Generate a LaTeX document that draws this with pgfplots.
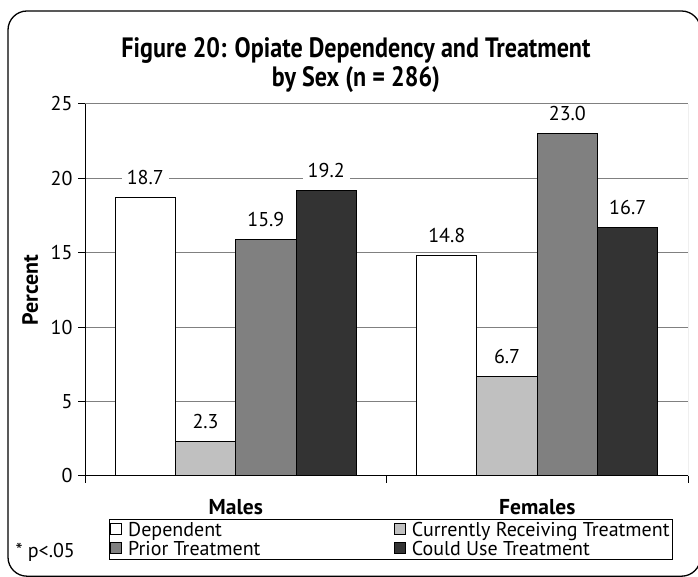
\documentclass[border=0pt]{standalone}
\usepackage{fontspec}
\setmainfont{PT Sans}
\newfontfamily\titlefont[FakeStretch=0.86]{PT Sans}
\usepackage{pgfplots}
\pgfplotsset{compat=1.18}
\definecolor{lgray}{HTML}{C0C0C0}
\definecolor{mgray}{HTML}{808080}
\definecolor{dgray}{HTML}{333333}
\newcommand{\fs}{\fontsize{20}{23}\selectfont}
\begin{document}
\begin{tikzpicture}[x=1pt,y=1pt]
\useasboundingbox (0,0) rectangle (698,577);
\coordinate (O) at (85,101);
\begin{scope}
\clip (0,0) rectangle (698,577);
\draw[line width=1.3pt, rounded corners=19pt] (8,0.8) rectangle (700.5,566);
\end{scope}
\node[font=\titlefont\bfseries\fontsize{28}{29}\selectfont, align=center, anchor=center] at (356,512) {Figure 20: Opiate Dependency and Treatment\\by Sex (n = 286)};
\node[font=\fs, anchor=west] at (12,25) {* p<.05};
\begin{axis}[
  at={(O)}, anchor=south west,
  width=603pt, height=372pt, scale only axis,
  xmin=-0.5, xmax=1.5, ymin=0, ymax=25,
  ytick={0,5,10,15,20,25},
  xtick={-0.5,0.5,1.5}, xticklabels={},
  extra x ticks={0,1}, extra x tick labels={Males,Females},
  extra x tick style={major tick length=0pt, xticklabel style={font=\fontsize{21.5}{24}\selectfont\bfseries, yshift=-20pt}},
  axis x line*=bottom, axis y line*=left,
  axis line style={black, line width=1pt},
  tick align=outside, major tick length=7pt,
  tick style={black, line width=1pt},
  ymajorgrids, grid style={mgray, line width=1pt},
  ybar=0pt, bar width=0.2,
  ylabel={Percent}, ylabel style={font=\fontsize{22}{24}\selectfont\bfseries, at={(axis description cs:-0.091,0.5)}, anchor=center},
  ticklabel style={font=\fs},
  /pgf/number format/assume math mode=true,
  yticklabel style={xshift=-2pt},
  nodes near coords,
  nodes near coords style={font=\fs, fill=white, inner xsep=5pt, inner ysep=2pt, anchor=center, yshift=20pt,
    /pgf/number format/.cd, fixed, fixed zerofill, precision=1, assume math mode=true},
  legend columns=2,
  legend style={at={(axis description cs:0.0398,-0.1156)}, anchor=north west, draw=black, line width=0.8pt,
    font=\fs, inner sep=1pt, row sep=-1pt, /tikz/every odd column/.append style={column sep=4pt},
    /tikz/every even column/.append style={column sep=0pt}},
  legend image code/.code={\draw[#1, line width=0.8pt] (0pt,-4.5pt) rectangle (11pt,6.5pt);},
  legend cell align=left,
]
\addplot[fill=white, draw=black, line width=1pt] coordinates {(0,18.7) (1,14.8)};
\addplot[fill=lgray, draw=black, line width=1pt] coordinates {(0,2.3) (1,6.7)};
\addplot[fill=mgray, draw=black, line width=1pt] coordinates {(0,15.9) (1,23.0)};
\addplot[fill=dgray, draw=black, line width=1pt] coordinates {(0,19.2) (1,16.7)};
\legend{\makebox[264pt][l]{Dependent},Currently Receiving Treatment,\makebox[264pt][l]{Prior Treatment},Could Use Treatment}
\draw[mgray, line width=1pt] (rel axis cs:1,0) -- (rel axis cs:1,1);
\end{axis}
\end{tikzpicture}
\end{document}
